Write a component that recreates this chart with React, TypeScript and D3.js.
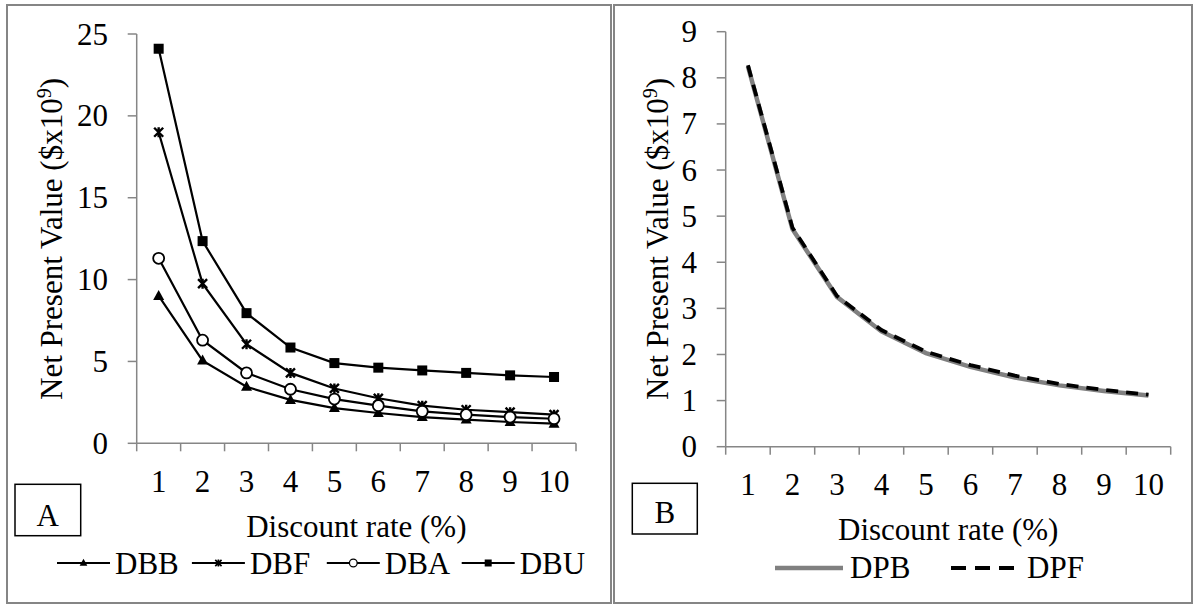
import React from 'react';
import * as d3 from 'd3';

const categories = ['1', '2', '3', '4', '5', '6', '7', '8', '9', '10'];

// panel A series ($x10^9)
const dbb = [9.0, 5.05, 3.45, 2.65, 2.15, 1.85, 1.6, 1.45, 1.3, 1.2];
const dbf = [19.0, 9.75, 6.05, 4.3, 3.35, 2.75, 2.3, 2.05, 1.9, 1.75];
const dba = [11.3, 6.3, 4.3, 3.3, 2.7, 2.3, 1.95, 1.75, 1.6, 1.5];
const dbu = [24.1, 12.35, 7.95, 5.85, 4.9, 4.62, 4.45, 4.3, 4.15, 4.05];

// panel B series
const dpb = [8.25, 4.72, 3.25, 2.5, 2.03, 1.73, 1.5, 1.33, 1.21, 1.11];
const dpf = [8.27, 4.75, 3.27, 2.53, 2.06, 1.77, 1.54, 1.36, 1.23, 1.13];

const yTicksA = [0, 5, 10, 15, 20, 25];
const yTicksB = [0, 1, 2, 3, 4, 5, 6, 7, 8, 9];

const seriesA = [
  { name: 'DBB', values: dbb, marker: 'triangle' },
  { name: 'DBF', values: dbf, marker: 'star' },
  { name: 'DBA', values: dba, marker: 'circle' },
  { name: 'DBU', values: dbu, marker: 'square' },
];

const FONT = "'Liberation Serif', 'Times New Roman', serif";
const AXIS = '#868686';
const FS = 31;

function Marker({ type, x, y, s = 1 }: { type: string; x: number; y: number; s?: number }) {
  const t = `translate(${x},${y}) scale(${s})`;
  if (type === 'triangle')
    return <path transform={t} d="M0,-6 L5.5,4 L-5.5,4 Z" fill="#000" />;
  if (type === 'square')
    return <rect transform={t} x={-5} y={-5} width={10} height={10} fill="#000" />;
  if (type === 'circle')
    return <circle transform={t} r={5.5} fill="#fff" stroke="#000" strokeWidth={1.8} />;
  return (
    <path
      transform={t}
      d="M-4.5,-4.5 L4.5,4.5 M-4.5,4.5 L4.5,-4.5 M0,-5 L0,5"
      stroke="#000"
      strokeWidth={2.4}
      fill="none"
    />
  );
}

function Axes({ x, y, ticks, x0, x1, y0 }: any) {
  const edges = categories.map((c) => x(c)).concat([x1]);
  return (
    <g>
      <line x1={x0} x2={x0} y1={y(ticks[ticks.length - 1])} y2={y0} stroke={AXIS} strokeWidth={1.5} />
      <line x1={x0} x2={x1} y1={y0} y2={y0} stroke={AXIS} strokeWidth={1.5} />
      {ticks.map((t: number) => (
        <g key={t}>
          <line x1={x0 - 9} x2={x0} y1={y(t)} y2={y(t)} stroke={AXIS} strokeWidth={1.5} />
          <text x={x0 - 28.7} y={y(t) + 10.5} textAnchor="end" fontSize={FS} fontFamily={FONT}>
            {t}
          </text>
        </g>
      ))}
      {edges.map((e: number, i: number) => (
        <line key={i} x1={e} x2={e} y1={y0} y2={y0 + 8} stroke={AXIS} strokeWidth={1.5} />
      ))}
      {categories.map((c) => (
        <text
          key={c}
          x={x(c) + x.bandwidth() / 2}
          y={y0 + 48.5}
          textAnchor="middle"
          fontSize={FS}
          fontFamily={FONT}
        >
          {c}
        </text>
      ))}
      <text
        x={(x0 + x1) / 2}
        y={y0 + 93.5}
        textAnchor="middle"
        fontSize={FS}
        fontFamily={FONT}
      >
        Discount rate (%)
      </text>
    </g>
  );
}

function YTitle({ x, y }: { x: number; y: number }) {
  return (
    <text
      transform={`translate(${x},${y}) rotate(-90)`}
      textAnchor="middle"
      fontSize={FS}
      fontFamily={FONT}
    >
      Net Present Value ($x10
      <tspan fontSize={20} dy={-11}>9</tspan>
      <tspan dy={11}>)</tspan>
    </text>
  );
}

export default function App() {
  // panel A
  const ax0 = 136.7, ax1 = 576, ay0 = 443.3, ayTop = 34;
  const xA = d3.scaleBand().domain(categories).range([ax0, ax1]).padding(0);
  const yA = d3.scaleLinear().domain([0, 25]).range([ay0, ayTop]);
  const cxA = (c: string) => (xA(c) as number) + xA.bandwidth() / 2;
  const lineA = d3
    .line<number>()
    .x((_, i) => cxA(categories[i]))
    .y((d) => yA(d));

  // panel B
  const bx0 = 725.7, bx1 = 1170.7, by0 = 446.7, byTop = 31.7;
  const xB = d3.scaleBand().domain(categories).range([bx0, bx1]).padding(0);
  const yB = d3.scaleLinear().domain([0, 9]).range([by0, byTop]);
  const cxB = (c: string) => (xB(c) as number) + xB.bandwidth() / 2;
  const lineB = d3
    .line<number>()
    .x((_, i) => cxB(categories[i]))
    .y((d) => yB(d));

  return (
    <svg
      width={1194}
      height={605}
      style={{ position: 'absolute', left: 0, top: 0, background: '#fff' }}
    >
      <rect x={0} y={0} width={1194} height={605} fill="#fff" />
      {/* panel frames */}
      <rect x={7} y={5} width={604} height={598} fill="none" stroke="#858585" strokeWidth={2} />
      <rect x={614} y={5} width={578} height={598} fill="none" stroke="#858585" strokeWidth={2} />

      {/* ---------- panel A ---------- */}
      <Axes x={xA} y={yA} ticks={yTicksA} x0={ax0} x1={ax1} y0={ay0} />
      <YTitle x={61.5} y={239} />
      {seriesA.map((s) => (
        <g key={s.name}>
          <path d={lineA(s.values) as string} fill="none" stroke="#000" strokeWidth={2.2} />
          {s.values.map((v, i) => (
            <Marker key={i} type={s.marker} x={cxA(categories[i])} y={yA(v)} />
          ))}
        </g>
      ))}
      <rect x={15} y={484.3} width={65.7} height={51.4} fill="none" stroke="#000" strokeWidth={1.5} />
      <text x={47.8} y={525.5} textAnchor="middle" fontSize={FS} fontFamily={FONT}>A</text>
      {seriesA.map((s, i) => {
        const lx = 57 + i * 134.9;
        return (
          <g key={s.name}>
            <line x1={lx} x2={lx + 53} y1={563} y2={563} stroke="#000" strokeWidth={2.2} />
            <Marker type={s.marker} x={lx + 26.5} y={563} s={0.7} />
            <text x={lx + 58} y={574} fontSize={FS} fontFamily={FONT}>{s.name}</text>
          </g>
        );
      })}

      {/* ---------- panel B ---------- */}
      <Axes x={xB} y={yB} ticks={yTicksB} x0={bx0} x1={bx1} y0={by0} />
      <YTitle x={667.5} y={239} />
      <path d={lineB(dpb) as string} fill="none" stroke="#808080" strokeWidth={4.5} />
      <path
        d={lineB(dpf) as string}
        fill="none"
        stroke="#000"
        strokeWidth={3.8}
        strokeDasharray="12,8"
      />
      <rect x={632.3} y={483.3} width={65} height={50.7} fill="none" stroke="#000" strokeWidth={1.5} />
      <text x={664.8} y={523} textAnchor="middle" fontSize={FS} fontFamily={FONT}>B</text>
      <line x1={775} x2={843} y1={568} y2={568} stroke="#808080" strokeWidth={4.5} />
      <text x={850} y={578} fontSize={FS} fontFamily={FONT}>DPB</text>
      <line
        x1={951}
        x2={1020}
        y1={568}
        y2={568}
        stroke="#000"
        strokeWidth={3.8}
        strokeDasharray="15,9"
      />
      <text x={1027} y={578} fontSize={FS} fontFamily={FONT}>DPF</text>
    </svg>
  );
}
